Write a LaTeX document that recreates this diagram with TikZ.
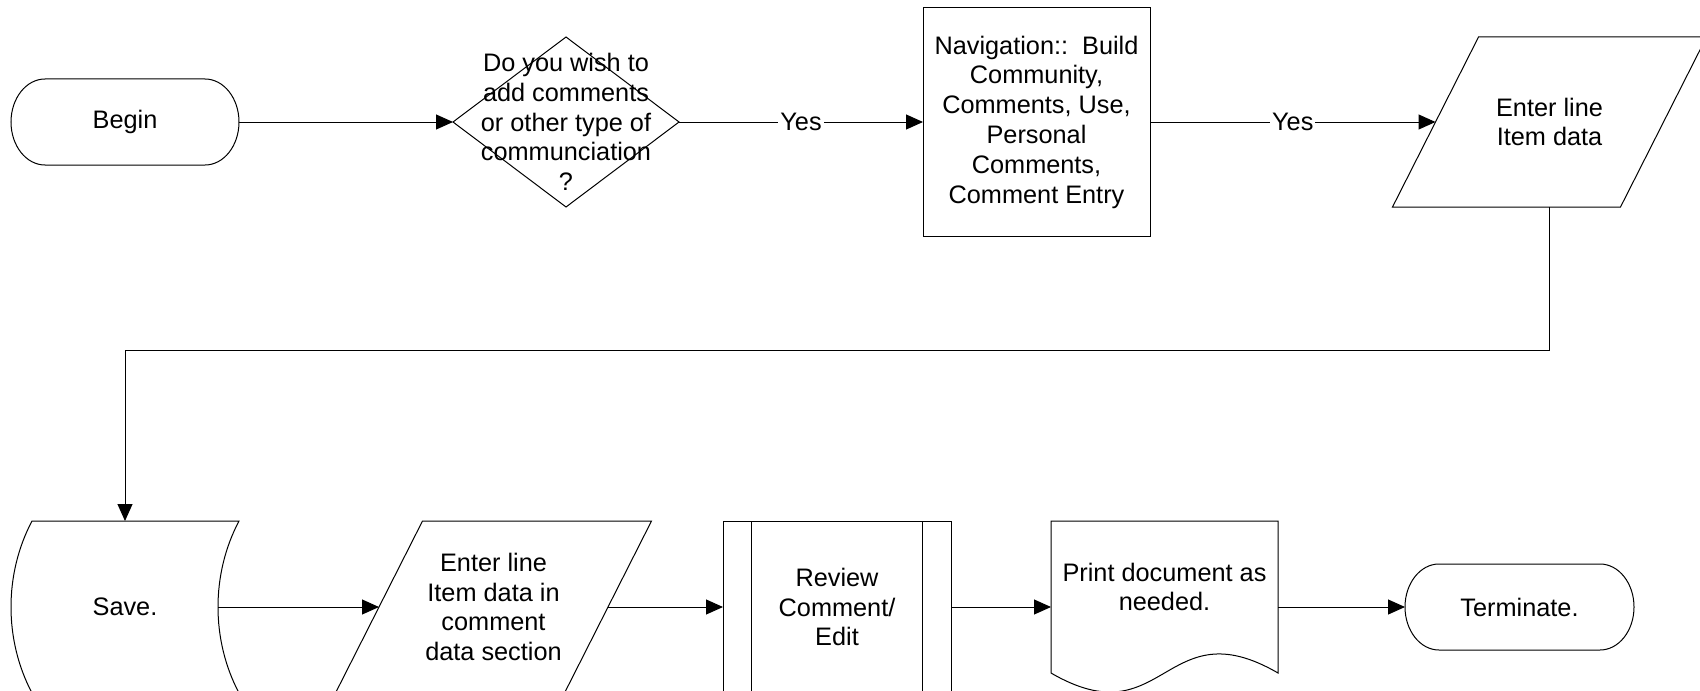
\documentclass[tikz,border=0pt]{standalone}
\usepackage{fontspec}
\setmainfont{Liberation Sans}
\usetikzlibrary{arrows.meta,calc,shapes.geometric}

\begin{document}
\begin{tikzpicture}[
  x=0.5pt, y=0.5pt,
  line width=0.5pt,
  txt/.style={font=\fontsize{12.65}{14.9}\selectfont, align=center, text=black},
  box/.style={txt, rectangle, inner sep=0pt, outer sep=0pt},
  decision/.style={diamond, draw, inner sep=0pt, outer sep=0pt,
                   minimum width=113pt, minimum height=85pt},
  flow/.style={draw, -{Triangle[length=8.5pt,width=7.5pt]}},
  yes/.style={txt, fill=white, inner sep=1pt}
]
\useasboundingbox (0,0) rectangle (1700,-690);
\clip (0,0) rectangle (1700,-690);

% ---------- top row ----------
% start terminator
\node[box, minimum width=114pt, minimum height=43pt] (begin) at (125,-122) {Begin};
\draw ($(begin.north west)+(34,0)$) -- ($(begin.north east)+(-34,0)$)
      arc[start angle=90, end angle=-90, x radius=34, y radius=43]
      -- ($(begin.south west)+(34,0)$)
      arc[start angle=270, end angle=90, x radius=34, y radius=43] -- cycle;

% decision
\node[decision] (q) at (566,-122) {};
\node[txt] (qtext) at (q.center) {Do you wish to\\add comments\\or other type of\\communciation\\?};

% process
\node[box, draw, minimum width=113.5pt, minimum height=114pt] (nav) at (1036.5,-122)
  {Navigation::\ \ Build\\Community,\\Comments, Use,\\Personal\\Comments,\\Comment Entry};

% input / output
\node[box, minimum width=114pt, minimum height=85pt] (inp1) at (1549.5,-122) {Enter line\\Item data};
\draw ($(inp1.south west)+(-43,0)$) -- ($(inp1.north west)+(43,0)$)
   -- ($(inp1.north east)+(43,0)$) -- ($(inp1.south east)+(-43,0)$) -- cycle;

% ---------- bottom row ----------
% stored data
\node[box, minimum width=114pt, minimum height=86pt] (save) at (125,-607) {Save.};
\draw ($(save.north west)+(21,0)$) -- (save.north east)
   .. controls ($(save.north east)+(-28,-53)$) and ($(save.south east)+(-28,53)$) .. (save.south east)
   -- ($(save.south west)+(21,0)$)
   .. controls ($(save.south west)+(-7,53)$) and ($(save.north west)+(-7,-53)$) .. cycle;
\coordinate (saveout) at ($(save.east)+(-21,0)$);

% input / output
\node[box, minimum width=114.5pt, minimum height=86pt] (inp2) at (493.5,-607)
  {Enter line\\Item data in\\comment\\data section};
\draw ($(inp2.south west)+(-43.5,0)$) -- ($(inp2.north west)+(43.5,0)$)
   -- ($(inp2.north east)+(43.5,0)$) -- ($(inp2.south east)+(-43.5,0)$) -- cycle;

% predefined process
\node[box, draw, minimum width=114pt, minimum height=86pt] (pp) at (837,-607) {Review\\Comment/\\Edit};
\draw ($(pp.north west)+(28.5,0)$) -- ($(pp.south west)+(28.5,0)$);
\draw ($(pp.north east)+(-28.5,0)$) -- ($(pp.south east)+(-28.5,0)$);

% document
\node[box, minimum width=113.5pt, minimum height=86pt] (doc) at (1164.5,-607) {};
\draw (doc.north west) -- (doc.north east) -- ($(doc.north east)+(0,-152)$)
   .. controls ($(doc.north east)+(-113.5,-86)$) and ($(doc.north west)+(113.5,-218)$)
   .. ($(doc.north west)+(0,-152)$) -- cycle;
\node[txt] (doctext) at ($(doc.center)+(0,20)$) {Print document as\\needed.};

% end terminator
\node[box, minimum width=114.5pt, minimum height=43pt] (term) at (1519.5,-607) {Terminate.};
\draw ($(term.north west)+(34,0)$) -- ($(term.north east)+(-34,0)$)
      arc[start angle=90, end angle=-90, x radius=34, y radius=43]
      -- ($(term.south west)+(34,0)$)
      arc[start angle=270, end angle=90, x radius=34, y radius=43] -- cycle;

% ---------- connectors ----------
\draw[flow] (begin.east) -- (q.west);
\draw[flow] (q.east) -- node[yes] {Yes} (nav.west);
\draw[flow] (nav.east) -- node[yes] {Yes} (inp1.west);
\draw[flow] (inp1.south) -- ++(0,-143) -| (save.north);
\draw[flow] (saveout) -- (inp2.west);
\draw[flow] (inp2.east) -- (pp.west);
\draw[flow] (pp.east) -- (doc.west);
\draw[flow] (doc.east) -- (term.west);
\end{tikzpicture}
\end{document}
